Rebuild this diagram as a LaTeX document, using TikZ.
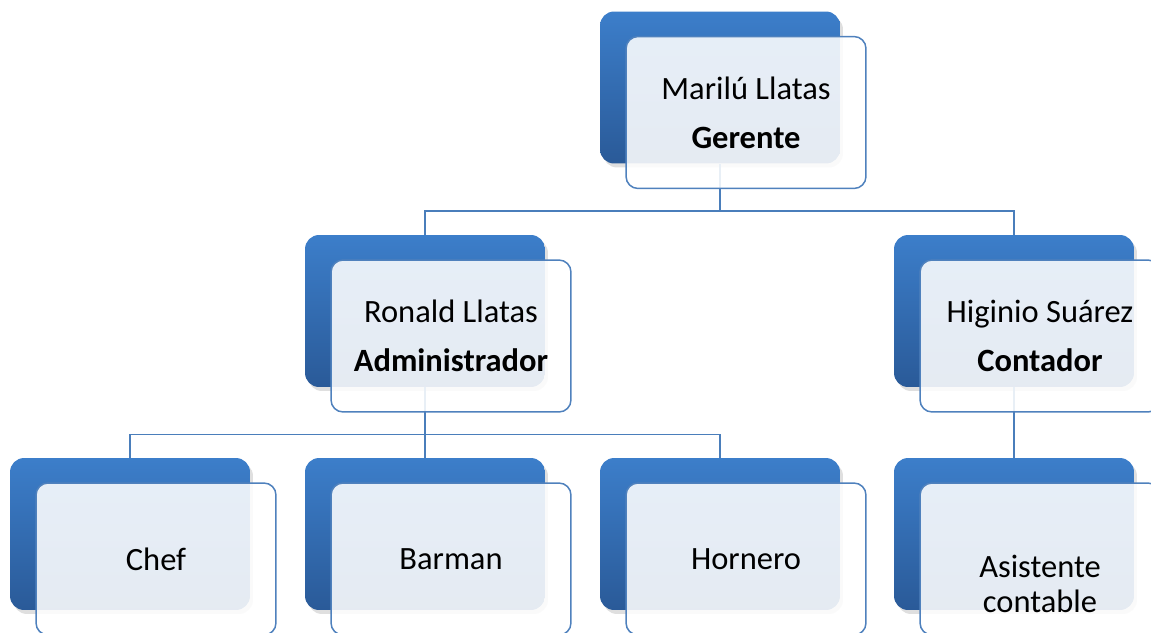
\documentclass[tikz,border=0pt]{standalone}
\usepackage{fontspec}
\setmainfont{Carlito}
\usetikzlibrary{shadows}
\definecolor{tilehi}{RGB}{60,126,202}
\definecolor{tilelo}{RGB}{42,90,152}
\definecolor{cardline}{RGB}{79,129,189}
\definecolor{linkblue}{RGB}{74,126,187}

\begin{document}
\begin{tikzpicture}[x=0.02cm,y=-0.02cm]
\useasboundingbox (0,0) rectangle (1151,632);
\clip (0,0) rectangle (1151,632);
\begin{scope}[every node/.style={rectangle,rounded corners=0.28cm,
              minimum width=4.8cm,minimum height=3.04cm,
              top color=tilehi,bottom color=tilelo,
              drop shadow={opacity=0.25,shadow xshift=0.6mm,shadow yshift=-0.8mm}}]
    \node (B1) at (720,87.5) {};
    \node (B2) at (425,311) {};
    \node (B3) at (1014,311) {};
    \node (B4) at (130,534) {};
    \node (B5) at (425,534) {};
    \node (B6) at (720,534) {};
    \node (B7) at (1014,534) {};
\end{scope}
\begin{scope}[every edge/.style={draw=linkblue,line width=0.85pt,
              to path={(\tikztostart.south) -- ++(0,47) -| (\tikztotarget.north)}}]
    \path [-] (B1) edge (B2);
    \path [-] (B1) edge (B3);
    \path [-] (B2) edge (B4);
    \path [-] (B2) edge (B5);
    \path [-] (B2) edge (B6);
    \path [-] (B3) edge (B7);
\end{scope}
\begin{scope}[every node/.style={rectangle,rounded corners=0.24cm,
              minimum width=4.8cm,minimum height=3.04cm,
              draw=cardline,line width=0.85pt,
              fill=white,fill opacity=0.88,text opacity=1,
              align=center,font=\fontsize{18.5}{22}\selectfont}]
    \node (T1) at ([shift={(26,25)}]B1) {Marilú Llatas\\[6pt]\textbf{Gerente}};
    \node (T2) at ([shift={(26,25)}]B2) {Ronald Llatas\\[6pt]\textbf{Administrador}};
    \node (T3) at ([shift={(26,25)}]B3) {Higinio Suárez\\[6pt]\textbf{Contador}};
    \node (T4) at ([shift={(26,25)}]B4) {Chef};
    \node (T5) at ([shift={(26,25)}]B5) {Barman};
    \node (T6) at ([shift={(26,25)}]B6) {Hornero};
    \node (T7) at ([shift={(26,25)}]B7) {};
\end{scope}
\node [align=center,font=\fontsize{18.5}{19.5}\selectfont] (T7txt)
    at ([yshift=-0.5cm]T7.center) {Asistente\\contable};
\end{tikzpicture}
\end{document}
